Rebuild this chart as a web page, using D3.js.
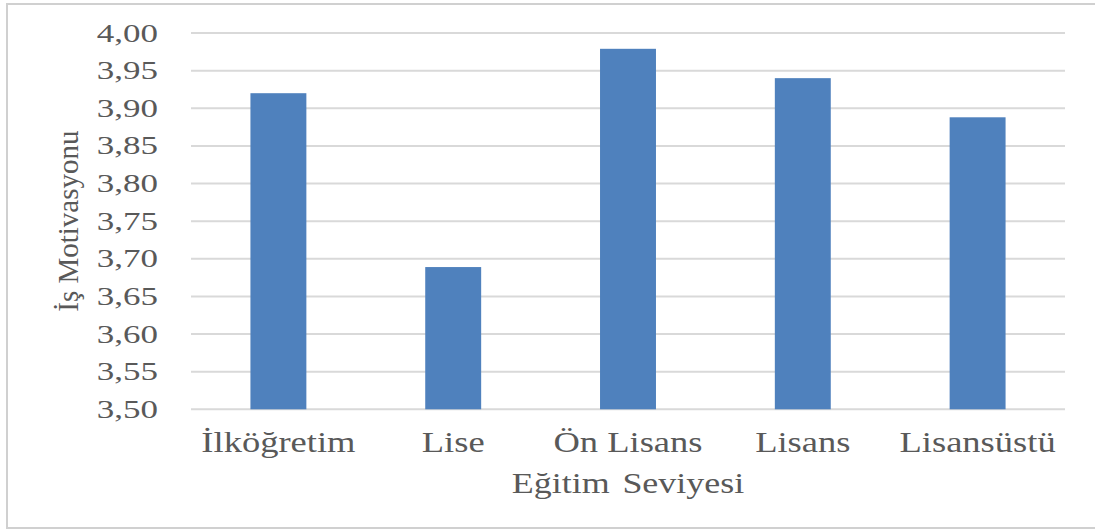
<!DOCTYPE html>
<html>
<head>
<meta charset="utf-8">
<script src="https://cdn.jsdelivr.net/npm/d3@7/dist/d3.min.js"></script>
<style>
  html, body { margin: 0; padding: 0; background: #ffffff; }
  svg { display: block; }
</style>
</head>
<body>
<svg id="chart" width="1095" height="530"></svg>
<script>
const categories = ["İlköğretim", "Lise", "Ön Lisans", "Lisans", "Lisansüstü"];
const values = [3.920, 3.689, 3.979, 3.940, 3.888];
const yTicks = [3.50, 3.55, 3.60, 3.65, 3.70, 3.75, 3.80, 3.85, 3.90, 3.95, 4.00];
const yDomain = [3.50, 4.00];
const yTitle = "İş Motivasyonu";
const xTitle = "Eğitim Seviyesi";

const W = 1095, H = 530;
const plot = { left: 191, right: 1065, top: 33, bottom: 409.3 };
const textColor = "#595959";
const gridColor = "#d9d9d9";
const barColor = "#4f81bd";
const font = "'Liberation Serif', 'Times New Roman', serif";

const svg = d3.select("#chart");

// frame
svg.append("rect")
  .attr("x", 7).attr("y", 4)
  .attr("width", W + 20).attr("height", 524)
  .attr("fill", "#ffffff")
  .attr("stroke", "#d0d0d0")
  .attr("stroke-width", 2);

const x = d3.scaleBand()
  .domain(categories)
  .range([plot.left, plot.right])
  .paddingInner(0.68)
  .paddingOuter(0.34);

const y = d3.scaleLinear()
  .domain(yDomain)
  .range([plot.bottom, plot.top]);

const locale = d3.formatLocale({ decimal: ",", thousands: ".", grouping: [3], currency: ["", ""] });
const fmt = locale.format(".2f");

// gridlines
svg.append("g").selectAll("line")
  .data(yTicks)
  .join("line")
  .attr("x1", plot.left).attr("x2", plot.right)
  .attr("y1", d => y(d)).attr("y2", d => y(d))
  .attr("stroke", gridColor)
  .attr("stroke-width", 2);

// y tick labels
svg.append("g").selectAll("text")
  .data(yTicks)
  .join("text")
  .attr("transform", d => `translate(158, ${y(d)}) scale(1.4, 1)`)
  .attr("dy", "0.34em")
  .attr("text-anchor", "end")
  .attr("font-family", font)
  .attr("font-size", 25)
  .attr("fill", textColor)
  .text(d => fmt(d));

// bars
svg.append("g").selectAll("rect")
  .data(categories.map((c, i) => ({ c, v: values[i] })))
  .join("rect")
  .attr("x", d => x(d.c))
  .attr("width", x.bandwidth())
  .attr("y", d => y(d.v))
  .attr("height", d => y(yDomain[0]) - y(d.v))
  .attr("fill", barColor);

// category labels
svg.append("g").selectAll("text")
  .data(categories)
  .join("text")
  .attr("transform", d => `translate(${x(d) + x.bandwidth() / 2}, 452) scale(1.26, 1)`)
  .attr("text-anchor", "middle")
  .attr("font-family", font)
  .attr("font-size", 29)
  .attr("fill", textColor)
  .text(d => d);

// x title
svg.append("text")
  .attr("transform", `translate(${(plot.left + plot.right) / 2}, 493) scale(1.24, 1)`)
  .attr("text-anchor", "middle")
  .attr("font-family", font)
  .attr("font-size", 29)
  .attr("word-spacing", 3)
  .attr("fill", textColor)
  .text(xTitle);

// y title
svg.append("text")
  .attr("transform", `translate(78, ${(plot.top + plot.bottom) / 2}) rotate(-90)`)
  .attr("text-anchor", "middle")
  .attr("font-family", font)
  .attr("font-size", 29)
  .attr("fill", textColor)
  .text(yTitle);
</script>
</body>
</html>
